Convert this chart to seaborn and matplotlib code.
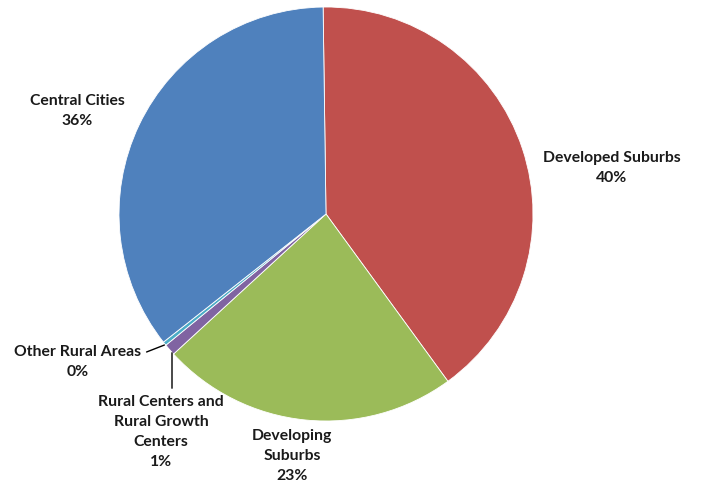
import matplotlib
matplotlib.use("Agg")
import matplotlib.pyplot as plt
import seaborn as sns
import numpy as np

categories = ["Developed Suburbs", "Developing\nSuburbs",
              "Rural Centers and\nRural Growth\nCenters",
              "Other Rural Areas", "Central Cities"]
values = [40.2, 23.2, 0.9, 0.3, 35.4]
pct_labels = ["40%", "23%", "1%", "0%", "36%"]
colors = ["#C0504D", "#9BBB59", "#8064A2", "#4BACC6", "#4F81BD"]

sns.set_theme(style="white")
plt.rcParams['font.family'] = ['Lato', 'DejaVu Sans']

fig = plt.figure(figsize=(7.07, 4.84), dpi=100)
cx, cy, r = 326, 214, 207
W, H = 707, 484
ax = fig.add_axes([(cx - r) / W, (H - cy - r) / H, 2 * r / W, 2 * r / H])
wedges, _ = ax.pie(values, colors=colors, startangle=90.8, counterclock=False,
                   radius=1, wedgeprops=dict(edgecolor="white", linewidth=0.6))
ax.set_xlim(-1, 1)
ax.set_ylim(-1, 1)
ax.set_aspect("equal")
ax.axis("off")

def px(x, y):
    return ((x - cx) / r, (cy - y) / r)

label_pos = [px(612, 168), px(292, 456), px(161, 432), px(78, 362), px(77, 111)]
for cat, pct, pos in zip(categories, pct_labels, label_pos):
    ax.text(pos[0], pos[1], cat + "\n" + pct, ha="center", va="center",
            fontsize=11.3, fontweight="bold", color="#1a1a1a",
            linespacing=1.55, clip_on=False)

# leader lines
ax.annotate("", xy=px(167, 344), xytext=px(144, 353),
            arrowprops=dict(arrowstyle="-", color="black", lw=1), annotation_clip=False)
ax.annotate("", xy=px(172, 350), xytext=px(172, 391),
            arrowprops=dict(arrowstyle="-", color="black", lw=1), annotation_clip=False)

fig.savefig("out.png", dpi=100)
